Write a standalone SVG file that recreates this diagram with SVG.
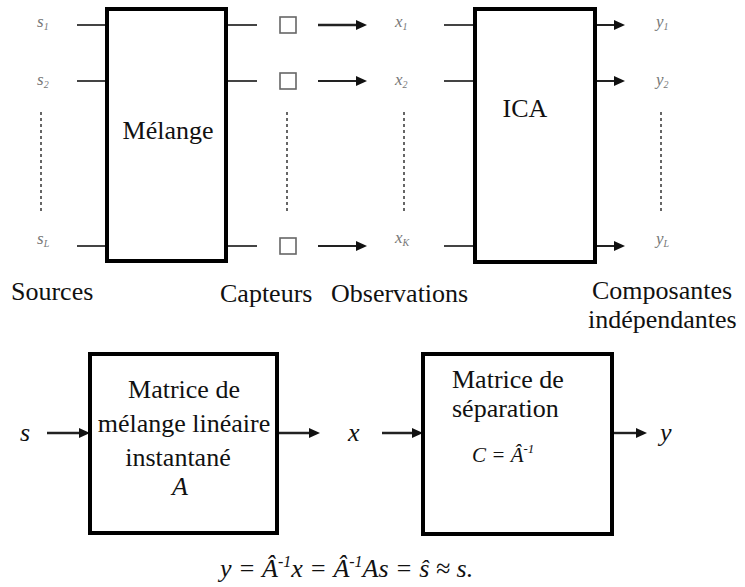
<svg xmlns="http://www.w3.org/2000/svg" width="745" height="587" viewBox="0 0 745 587">
<rect width="745" height="587" fill="#fff"/>
<g id="connectors" fill="none">
<g stroke="#444" stroke-width="2">
<line x1="77" y1="25" x2="107" y2="25"/>
<line x1="77" y1="81" x2="107" y2="81"/>
<line x1="77" y1="246" x2="107" y2="246"/>
<line x1="226" y1="25" x2="257" y2="25"/>
<line x1="226" y1="81" x2="257" y2="81"/>
<line x1="226" y1="246" x2="257" y2="246"/>
<line x1="444" y1="25" x2="475" y2="25"/>
<line x1="444" y1="81" x2="475" y2="81"/>
<line x1="444" y1="246" x2="475" y2="246"/>
</g>
<g stroke="#222" stroke-width="2">
<line x1="318" y1="25" x2="360" y2="25" stroke-width="2.6"/>
<line x1="318" y1="81" x2="360" y2="81"/>
<line x1="318" y1="246" x2="360" y2="246"/>
<line x1="595" y1="25" x2="618" y2="25"/>
<line x1="595" y1="81" x2="618" y2="81"/>
<line x1="595" y1="246" x2="618" y2="246"/>
<line x1="47" y1="433" x2="83" y2="433" stroke-width="2.4"/>
<line x1="277" y1="433" x2="313" y2="433" stroke-width="2.4"/>
<line x1="382" y1="433" x2="416" y2="433" stroke-width="2.4"/>
<line x1="612" y1="433" x2="640" y2="433" stroke-width="2.4"/>
</g>
<g fill="#111" stroke="none">
<polygon points="367,25 356,20 356,30"/>
<polygon points="367,81 356,76 356,86"/>
<polygon points="367,246 356,241 356,251"/>
<polygon points="625,25 614,20 614,30"/>
<polygon points="625,81 614,76 614,86"/>
<polygon points="625,246 614,241 614,251"/>
<polygon points="90,433 79,428 79,438"/>
<polygon points="320,433 309,428 309,438"/>
<polygon points="423,433 412,428 412,438"/>
<polygon points="647,433 636,428 636,438"/>
</g>
<g stroke="#666" stroke-width="2" stroke-dasharray="3,3">
<line x1="41" y1="112" x2="41" y2="212"/>
<line x1="287" y1="112" x2="287" y2="212"/>
<line x1="404" y1="112" x2="404" y2="212"/>
<line x1="661" y1="112" x2="661" y2="212"/>
</g>
</g>
<g id="sources-labels" fill="#777">
<text font-family="Liberation Serif" font-style="italic" font-size="17" x="37" y="27">s<tspan font-size="10" dy="3">1</tspan></text>
<text font-family="Liberation Serif" font-style="italic" font-size="17" x="37" y="85">s<tspan font-size="10" dy="3">2</tspan></text>
<text font-family="Liberation Serif" font-style="italic" font-size="17" x="37" y="244">s<tspan font-size="10" dy="3">L</tspan></text>
</g>
<g id="melange">
<rect x="107" y="9" width="119" height="252" fill="#fff" stroke="#000" stroke-width="4"/>
<text font-family="Liberation Serif" font-size="26" fill="#111" x="168" y="139" text-anchor="middle">Mélange</text>
</g>
<g id="capteurs" fill="#fff" stroke="#666" stroke-width="1.6">
<rect x="280" y="17" width="16" height="16"/>
<rect x="280" y="73" width="16" height="16"/>
<rect x="280" y="238" width="16" height="16"/>
</g>
<g id="obs-labels" fill="#777">
<text font-family="Liberation Serif" font-style="italic" font-size="17" x="395" y="27">x<tspan font-size="10" dy="3">1</tspan></text>
<text font-family="Liberation Serif" font-style="italic" font-size="17" x="395" y="85">x<tspan font-size="10" dy="3">2</tspan></text>
<text font-family="Liberation Serif" font-style="italic" font-size="17" x="395" y="243">x<tspan font-size="10" dy="3">K</tspan></text>
</g>
<g id="ica">
<rect x="475" y="9" width="120" height="253" fill="#fff" stroke="#000" stroke-width="4"/>
<text font-family="Liberation Serif" font-size="26" fill="#111" x="525" y="117" text-anchor="middle">ICA</text>
</g>
<g id="out-labels" fill="#777">
<text font-family="Liberation Serif" font-style="italic" font-size="17" x="656" y="27">y<tspan font-size="10" dy="3">1</tspan></text>
<text font-family="Liberation Serif" font-style="italic" font-size="17" x="656" y="85">y<tspan font-size="10" dy="3">2</tspan></text>
<text font-family="Liberation Serif" font-style="italic" font-size="17" x="656" y="244">y<tspan font-size="10" dy="3">L</tspan></text>
</g>
<g id="captions" fill="#111">
<text font-family="Liberation Serif" font-size="26" x="11" y="300">Sources</text>
<text font-family="Liberation Serif" font-size="26" x="220" y="302">Capteurs</text>
<text font-family="Liberation Serif" font-size="26" x="331" y="302">Observations</text>
<text font-family="Liberation Serif" font-size="26" x="592" y="299">Composantes</text>
<text font-family="Liberation Serif" font-size="26" x="588" y="328">indépendantes</text>
</g>
<g id="matrice-melange" fill="#111">
<rect x="90" y="354" width="187" height="179" fill="#fff" stroke="#000" stroke-width="4"/>
<text font-family="Liberation Serif" font-size="26" x="184" y="398" text-anchor="middle">Matrice de</text>
<text font-family="Liberation Serif" font-size="26" x="184" y="432" text-anchor="middle">mélange linéaire</text>
<text font-family="Liberation Serif" font-size="26" x="178" y="466" text-anchor="middle">instantané</text>
<text font-family="Liberation Serif" font-size="26" font-style="italic" x="172" y="495">A</text>
</g>
<g id="matrice-separation" fill="#111">
<rect x="423" y="354" width="189" height="180" fill="#fff" stroke="#000" stroke-width="4"/>
<text font-family="Liberation Serif" font-size="26" x="452" y="388">Matrice de</text>
<text font-family="Liberation Serif" font-size="26" x="452" y="417">séparation</text>
<text font-family="Liberation Serif" font-style="italic" font-size="21" x="472" y="462">C = Â<tspan font-size="13" dy="-9">-1</tspan></text>
</g>
<g id="io-labels" fill="#111">
<text font-family="Liberation Serif" font-size="26" font-style="italic" x="20" y="441">s</text>
<text font-family="Liberation Serif" font-size="26" font-style="italic" x="348" y="441">x</text>
<text font-family="Liberation Serif" font-size="26" font-style="italic" x="660" y="441">y</text>
</g>
<g id="formula" fill="#111">
<text font-family="Liberation Serif" font-size="26" font-style="italic" x="220" y="577">y = Â<tspan font-size="16" dy="-10">-1</tspan><tspan dy="10">x = Â</tspan><tspan font-size="16" dy="-10">-1</tspan><tspan dy="10">As = ŝ ≈ s.</tspan></text>
</g>
</svg>
